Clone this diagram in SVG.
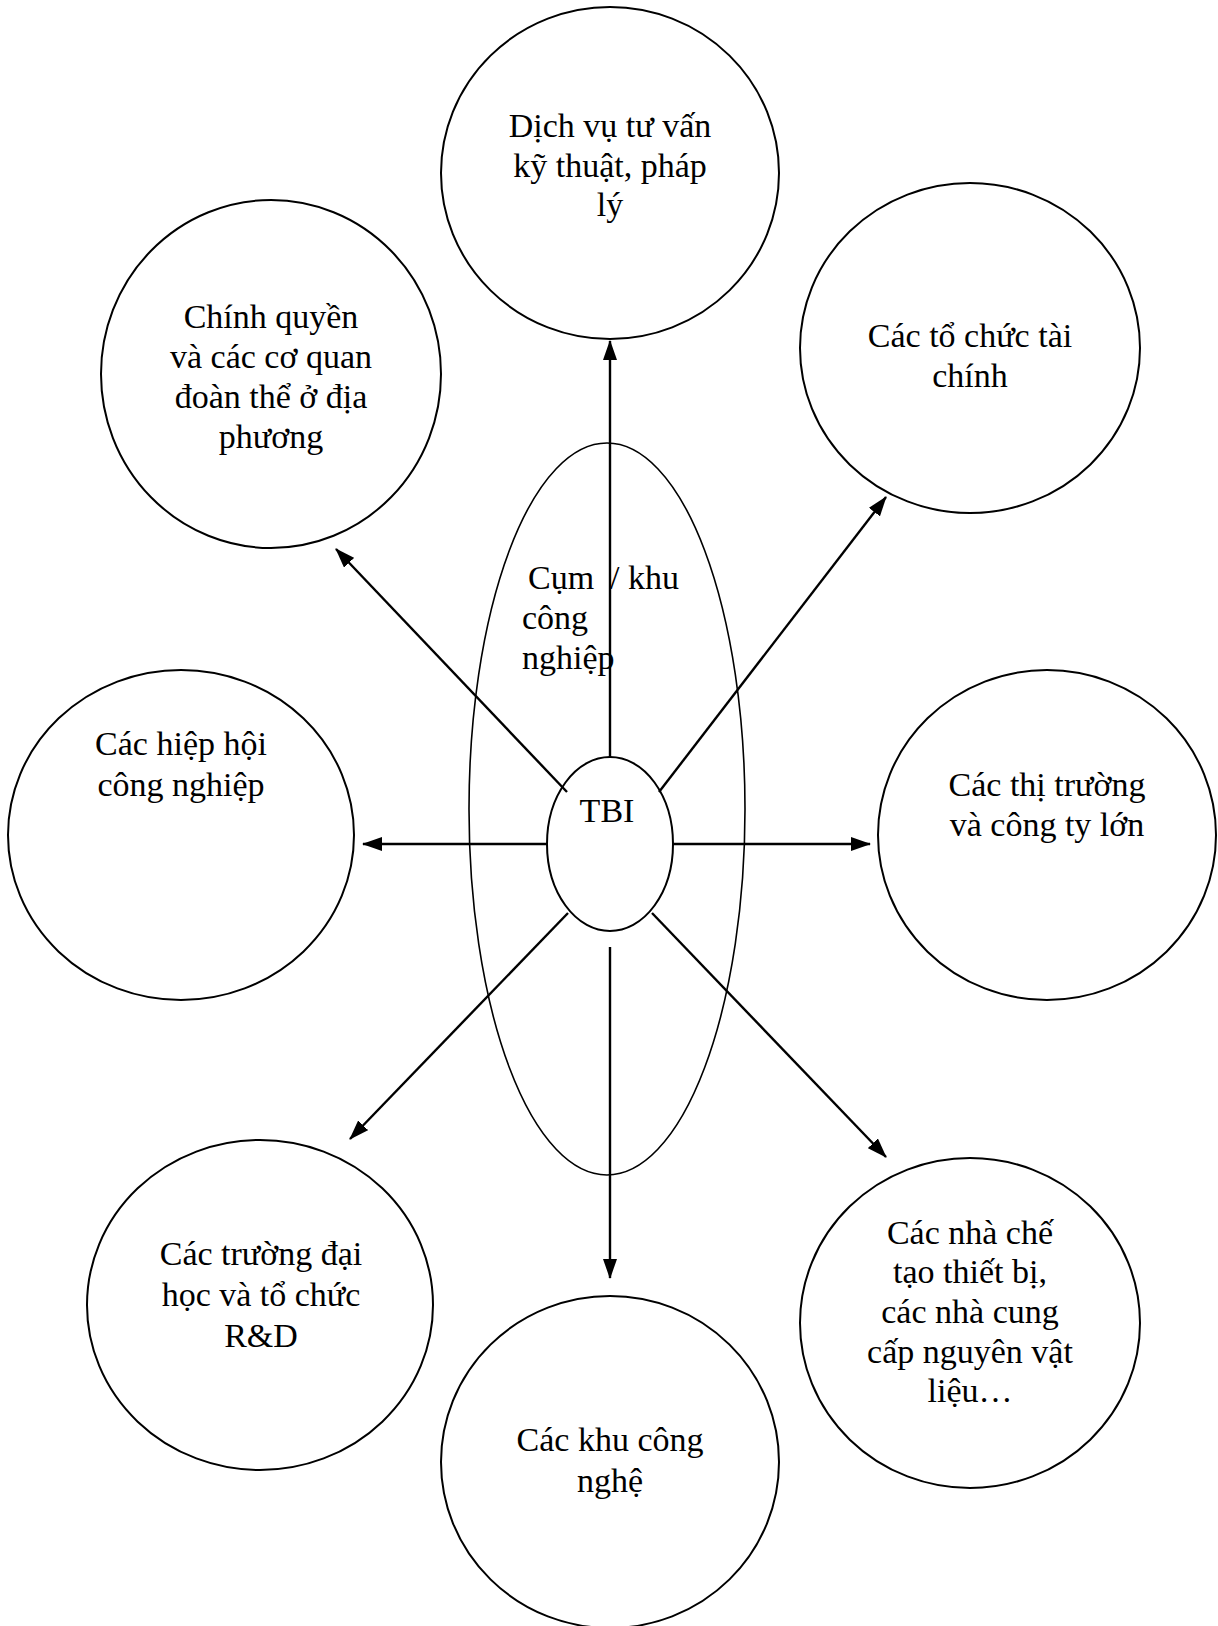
<svg xmlns="http://www.w3.org/2000/svg" width="1218" height="1626" viewBox="0 0 1218 1626">
<style>
.n{fill:none;stroke:#000;stroke-width:2}
.o{fill:none;stroke:#000;stroke-width:1.6}
.t{font-family:"Liberation Serif","Times New Roman",serif;font-size:34px;fill:#000;text-anchor:middle}
.tl{font-family:"Liberation Serif","Times New Roman",serif;font-size:34px;fill:#000}
.c{stroke:#000;stroke-width:2.4;fill:none}
</style>
<defs>
<marker id="ah" viewBox="0 0 20 14" markerWidth="20" markerHeight="14" refX="19" refY="7" orient="auto" markerUnits="userSpaceOnUse">
<path d="M0,0 L20,7 L0,14 z" fill="#000"/>
</marker>
</defs>
<rect width="1218" height="1626" fill="#fff"/>
<g id="node-cluster">
<ellipse class="o" cx="607" cy="809" rx="138" ry="366"/>
<text class="tl" x="528" y="589">Cụm</text>
<text class="tl" x="610" y="589">/ khu</text>
<text class="tl" x="522" y="629">công</text>
<text class="tl" x="522" y="669">nghiệp</text>
</g>
<g id="node-top">
<ellipse class="n" cx="610" cy="173" rx="169" ry="166"/>
<text class="t" x="610" y="137">Dịch vụ tư vấn</text>
<text class="t" x="610" y="177">kỹ thuật, pháp</text>
<text class="t" x="610" y="216">lý</text>
</g>
<g id="node-gov">
<ellipse class="n" cx="271" cy="374" rx="170" ry="174"/>
<text class="t" x="271" y="328">Chính quyền</text>
<text class="t" x="271" y="368">và các cơ quan</text>
<text class="t" x="271" y="408">đoàn thể ở địa</text>
<text class="t" x="271" y="448">phương</text>
</g>
<g id="node-finance">
<ellipse class="n" cx="970" cy="348" rx="170" ry="165"/>
<text class="t" x="970" y="347">Các tổ chức tài</text>
<text class="t" x="970" y="387">chính</text>
</g>
<g id="node-assoc">
<ellipse class="n" cx="181" cy="835" rx="173" ry="165"/>
<text class="t" x="181" y="755">Các hiệp hội</text>
<text class="t" x="181" y="796">công nghiệp</text>
</g>
<g id="node-market">
<ellipse class="n" cx="1047" cy="835" rx="169" ry="165"/>
<text class="t" x="1047" y="796">Các thị trường</text>
<text class="t" x="1047" y="836">và công ty lớn</text>
</g>
<g id="node-univ">
<ellipse class="n" cx="260" cy="1305" rx="173" ry="165"/>
<text class="t" x="261" y="1265">Các trường đại</text>
<text class="t" x="261" y="1306">học và tổ chức</text>
<text class="t" x="261" y="1347">R&amp;D</text>
</g>
<g id="node-tech">
<ellipse class="n" cx="610" cy="1462" rx="169" ry="166"/>
<text class="t" x="610" y="1451">Các khu công</text>
<text class="t" x="610" y="1492">nghệ</text>
</g>
<g id="node-suppliers">
<ellipse class="n" cx="970" cy="1323" rx="170" ry="165"/>
<text class="t" x="970" y="1244">Các nhà chế</text>
<text class="t" x="970" y="1283">tạo thiết bị,</text>
<text class="t" x="970" y="1323">các nhà cung</text>
<text class="t" x="970" y="1363">cấp nguyên vật</text>
<text class="t" x="970" y="1402">liệu…</text>
</g>
<g id="node-tbi">
<ellipse class="n" cx="610" cy="844" rx="63" ry="87"/>
<text class="t" x="607" y="822">TBI</text>
</g>
<g id="connectors">
<line class="c" x1="610" y1="757" x2="610" y2="341" marker-end="url(#ah)"/>
<line class="c" x1="567" y1="792" x2="336" y2="549" marker-end="url(#ah)"/>
<line class="c" x1="659" y1="792" x2="886" y2="497" marker-end="url(#ah)"/>
<line class="c" x1="547" y1="844" x2="363" y2="844" marker-end="url(#ah)"/>
<line class="c" x1="673" y1="844" x2="870" y2="844" marker-end="url(#ah)"/>
<line class="c" x1="568" y1="913" x2="350" y2="1139" marker-end="url(#ah)"/>
<line class="c" x1="652" y1="913" x2="886" y2="1157" marker-end="url(#ah)"/>
<line class="c" x1="610" y1="947" x2="610" y2="1278" marker-end="url(#ah)"/>
</g>
</svg>
